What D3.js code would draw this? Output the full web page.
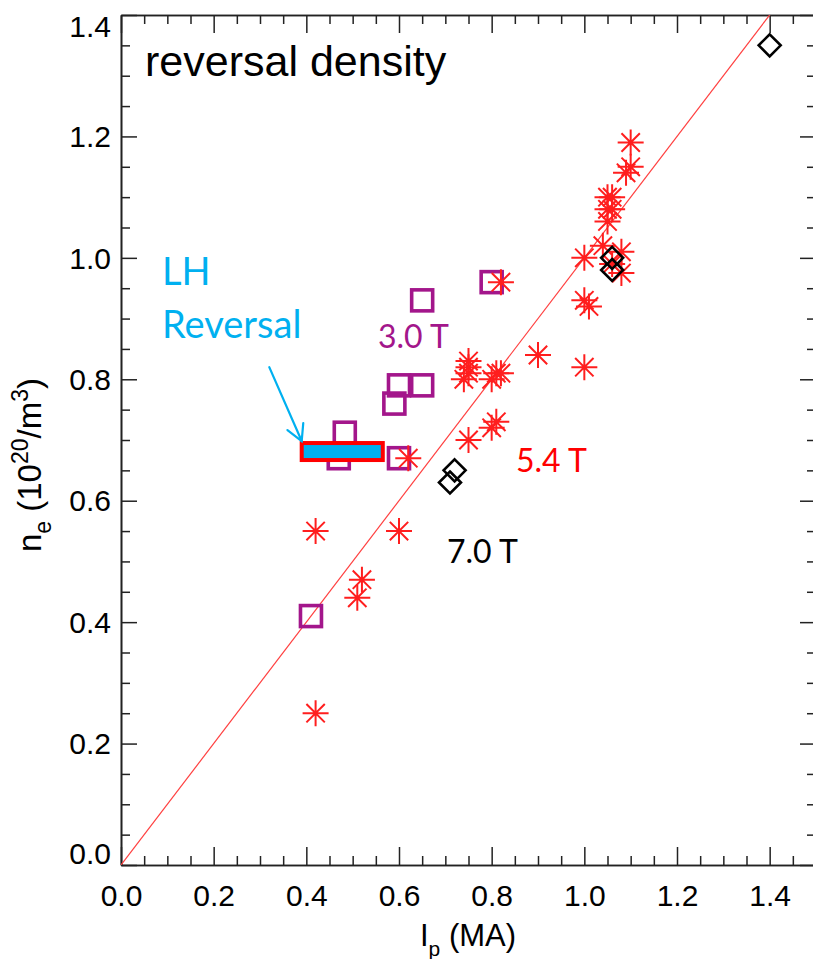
<!DOCTYPE html>
<html>
<head>
<meta charset="utf-8">
<script src="https://cdn.jsdelivr.net/npm/d3@7"></script>
<style>
  body { margin: 0; background: #fff; }
  svg { display: block; }
</style>
</head>
<body>
<svg id="chart" width="813" height="959"></svg>
<script>
// Density at the L-H reversal versus plasma current, grouped by toroidal field.

// 5.4 T shots (asterisks)
const starIp = [0.42, 0.42, 0.52, 0.51, 0.60, 0.62, 0.75, 0.80, 0.81, 0.75, 0.75, 0.75, 0.74,
                0.81, 0.80, 0.82, 0.82, 0.90, 1.00, 1.01, 1.00, 1.00, 1.04, 1.05, 1.05, 1.06,
                1.05, 1.06, 1.08, 1.08, 1.06, 1.09, 1.10, 1.10];
const starNe = [0.25, 0.55, 0.47, 0.44, 0.55, 0.67, 0.70, 0.72, 0.73, 0.83, 0.82, 0.81, 0.80,
                0.81, 0.80, 0.81, 0.96, 0.84, 0.82, 0.92, 0.93, 1.00, 1.02, 1.06, 1.08, 1.08,
                1.10, 1.10, 1.01, 0.975, 0.99, 1.14, 1.15, 1.19];

// 3.0 T shots (squares)
const squareIp = [0.41, 0.47, 0.483, 0.60, 0.59, 0.60, 0.65, 0.65, 0.80];
const squareNe = [0.41, 0.67, 0.712, 0.67, 0.76, 0.79, 0.79, 0.93, 0.96];

// 7.0 T shots (diamonds)
const diamondIp = [0.71, 0.72, 1.06, 1.06, 1.40];
const diamondNe = [0.63, 0.65, 0.98, 1.00, 1.35];

// LH reversal band
const lhReversalIp = [0.39, 0.565];
const lhReversalNe = [0.667, 0.695];

// n_e = I_p reference line
const refLineIp = [0, 1.5];
const refLineNe = [0, 1.5];

const xTicks = [0, 0.2, 0.4, 0.6, 0.8, 1.0, 1.2, 1.4];
const xTickLabels = ["0.0", "0.2", "0.4", "0.6", "0.8", "1.0", "1.2", "1.4"];
const yTicks = [0, 0.2, 0.4, 0.6, 0.8, 1.0, 1.2, 1.4];
const yTickLabels = ["0.0", "0.2", "0.4", "0.6", "0.8", "1.0", "1.2", "1.4"];
const minorStep = 0.05;

const plotLeft = 121, plotRight = 816, plotTop = 15, plotBottom = 865;
const x = d3.scaleLinear().domain([0, 1.5]).range([plotLeft, plotRight]);
const y = d3.scaleLinear().domain([0, 1.4]).range([plotBottom, plotTop]);

const svg = d3.select("#chart");
const axisColor = "#222";
const red = "#ff1e1e";
const purple = "#a3168b";
const cyan = "#00b0f0";
const axisFont = "'Liberation Sans', Arial, Helvetica, sans-serif";
const labelFont = "Lato, 'Open Sans', sans-serif";

svg.append("defs").append("clipPath").attr("id", "plotClip")
  .append("rect").attr("x", plotLeft).attr("y", plotTop)
  .attr("width", plotRight - plotLeft).attr("height", plotBottom - plotTop);

// ---- axes ----
const minorX = d3.range(0, 1.5 + 1e-9, minorStep).filter(v => !xTicks.some(t => Math.abs(t - v) < 1e-6));
const minorY = d3.range(0, 1.4 + 1e-9, minorStep).filter(v => !yTicks.some(t => Math.abs(t - v) < 1e-6));

function styleAxis(g) {
  g.selectAll("path.domain").attr("stroke", axisColor).attr("stroke-width", 1.6);
  g.selectAll(".tick line").attr("stroke", axisColor).attr("stroke-width", 1.5);
}

// bottom
const gB = svg.append("g").attr("transform", `translate(0,${plotBottom})`)
  .call(d3.axisBottom(x).tickValues(xTicks).tickSize(-18).tickSizeOuter(0).tickPadding(20)
        .tickFormat((d, i) => xTickLabels[i]));
gB.selectAll("text").style("font-family", axisFont)
  .style("font-size", "30px").attr("fill", "#000");
styleAxis(gB);
const gBm = svg.append("g").attr("transform", `translate(0,${plotBottom})`)
  .call(d3.axisBottom(x).tickValues(minorX).tickSize(-9).tickSizeOuter(0).tickFormat(""));
styleAxis(gBm);

// top
const gT = svg.append("g").attr("transform", `translate(0,${plotTop})`)
  .call(d3.axisTop(x).tickValues(xTicks).tickSize(-18).tickSizeOuter(0).tickFormat(""));
styleAxis(gT);
const gTm = svg.append("g").attr("transform", `translate(0,${plotTop})`)
  .call(d3.axisTop(x).tickValues(minorX).tickSize(-9).tickSizeOuter(0).tickFormat(""));
styleAxis(gTm);

// left
const gL = svg.append("g").attr("transform", `translate(${plotLeft},0)`)
  .call(d3.axisLeft(y).tickValues(yTicks).tickSize(-16).tickSizeOuter(0).tickPadding(10)
        .tickFormat((d, i) => yTickLabels[i]));
gL.selectAll("text").style("font-family", axisFont)
  .style("font-size", "30px").attr("fill", "#000")
  .attr("dy", d => d === 0 ? "-0.05em" : (d === 1.4 ? "0.72em" : "0.34em"));
styleAxis(gL);
const gLm = svg.append("g").attr("transform", `translate(${plotLeft},0)`)
  .call(d3.axisLeft(y).tickValues(minorY).tickSize(-9).tickSizeOuter(0).tickFormat(""));
styleAxis(gLm);

// right
const gR = svg.append("g").attr("transform", `translate(${plotRight},0)`)
  .call(d3.axisRight(y).tickValues(yTicks).tickSize(-16).tickSizeOuter(0).tickFormat(""));
styleAxis(gR);
const gRm = svg.append("g").attr("transform", `translate(${plotRight},0)`)
  .call(d3.axisRight(y).tickValues(minorY).tickSize(-9).tickSizeOuter(0).tickFormat(""));
styleAxis(gRm);

// ---- axis titles ----
const xTitle = svg.append("text")
  .attr("x", 468).attr("y", 946)
  .attr("text-anchor", "middle")
  .style("font-family", axisFont).style("font-size", "31px").attr("fill", "#000");
xTitle.append("tspan").text("I");
xTitle.append("tspan").style("font-size", "21px").attr("dy", 10).text("p");
xTitle.append("tspan").attr("dy", -10).text(" (MA)");

const yTitle = svg.append("text")
  .attr("transform", `translate(41,${(y(0) + y(1.4)) / 2 + 25}) rotate(-90)`)
  .attr("text-anchor", "middle")
  .style("font-family", axisFont).style("font-size", "33px").attr("fill", "#000");
yTitle.append("tspan").text("n");
yTitle.append("tspan").style("font-size", "23px").attr("dy", 10).text("e");
yTitle.append("tspan").attr("dy", -10).text(" (10");
yTitle.append("tspan").style("font-size", "23px").attr("dy", -13).text("20");
yTitle.append("tspan").attr("dy", 13).text("/m");
yTitle.append("tspan").style("font-size", "23px").attr("dy", -13).text("3");
yTitle.append("tspan").attr("dy", 13).text(")");

// ---- plot contents ----
const plot = svg.append("g").attr("clip-path", "url(#plotClip)");

// reference line n_e = I_p
plot.append("line")
  .attr("x1", x(refLineIp[0])).attr("y1", y(refLineNe[0]))
  .attr("x2", x(refLineIp[1])).attr("y2", y(refLineNe[1]))
  .attr("stroke", "#ff4040").attr("stroke-width", 1.2);

// 3.0 T squares
const sq = 21;
plot.selectAll("rect.sq").data(d3.zip(squareIp, squareNe)).join("rect")
  .attr("class", "sq")
  .attr("x", d => x(d[0]) - sq / 2).attr("y", d => y(d[1]) - sq / 2)
  .attr("width", sq).attr("height", sq)
  .attr("fill", "none").attr("stroke", purple).attr("stroke-width", 3.6);

// 5.4 T asterisks
const r = 13;
const starPath = d3.range(4).map(k => {
  const a = k * Math.PI / 4;
  const dx = r * Math.cos(a), dy = r * Math.sin(a);
  return `M${-dx},${-dy}L${dx},${dy}`;
}).join("");
plot.selectAll("path.star").data(d3.zip(starIp, starNe)).join("path")
  .attr("class", "star")
  .attr("transform", d => `translate(${x(d[0])},${y(d[1])})`)
  .attr("d", starPath)
  .attr("fill", "none").attr("stroke", red).attr("stroke-width", 2);

// 7.0 T diamonds
const dr = 11;
plot.selectAll("path.dia").data(d3.zip(diamondIp, diamondNe)).join("path")
  .attr("class", "dia")
  .attr("transform", d => `translate(${x(d[0])},${y(d[1])})`)
  .attr("d", `M0,${-dr}L${dr},0L0,${dr}L${-dr},0Z`)
  .attr("fill", "none").attr("stroke", "#000").attr("stroke-width", 2.6);

// LH reversal band
plot.append("rect")
  .attr("x", x(lhReversalIp[0])).attr("y", y(lhReversalNe[1]))
  .attr("width", x(lhReversalIp[1]) - x(lhReversalIp[0]))
  .attr("height", y(lhReversalNe[0]) - y(lhReversalNe[1]))
  .attr("fill", cyan).attr("stroke", "#ff0000").attr("stroke-width", 4);

// ---- annotations ----
svg.append("text").attr("x", 145).attr("y", 76)
  .style("font-family", axisFont).style("font-size", "43px")
  .attr("fill", "#000").text("reversal density");

svg.append("text").attr("x", 378).attr("y", 348).style("font-family", labelFont)
  .style("font-size", "32px").attr("fill", purple).text("3.0 T");
svg.append("text").attr("x", 516).attr("y", 472).style("font-family", labelFont)
  .style("font-size", "32px").attr("fill", "#ff0000").text("5.4 T");
svg.append("text").attr("x", 447).attr("y", 563).style("font-family", labelFont)
  .style("font-size", "32px").attr("fill", "#000").text("7.0 T");
svg.append("text").attr("x", 162).attr("y", 285).style("font-family", labelFont)
  .style("font-size", "38px").attr("fill", cyan).text("LH");
svg.append("text").attr("x", 162).attr("y", 338).style("font-family", labelFont)
  .style("font-size", "38px").attr("fill", cyan).text("Reversal");

// arrow pointing at the reversal band
const ax0 = x(0.32), ay0 = y(0.82);
const ax1 = x(lhReversalIp[0]), ay1 = y(lhReversalNe[1]) - 2;
const ang = Math.atan2(ay1 - ay0, ax1 - ax0);
const headLen = 18, headAng = 0.5;
const arrow = svg.append("g").attr("stroke", cyan).attr("stroke-width", 2.2)
  .attr("fill", "none").attr("stroke-linecap", "round");
arrow.append("line").attr("x1", ax0).attr("y1", ay0).attr("x2", ax1).attr("y2", ay1);
arrow.append("path").attr("d",
  `M${ax1 - headLen * Math.cos(ang - headAng)},${ay1 - headLen * Math.sin(ang - headAng)}` +
  `L${ax1},${ay1}` +
  `L${ax1 - headLen * Math.cos(ang + headAng)},${ay1 - headLen * Math.sin(ang + headAng)}`);
</script>
</body>
</html>
